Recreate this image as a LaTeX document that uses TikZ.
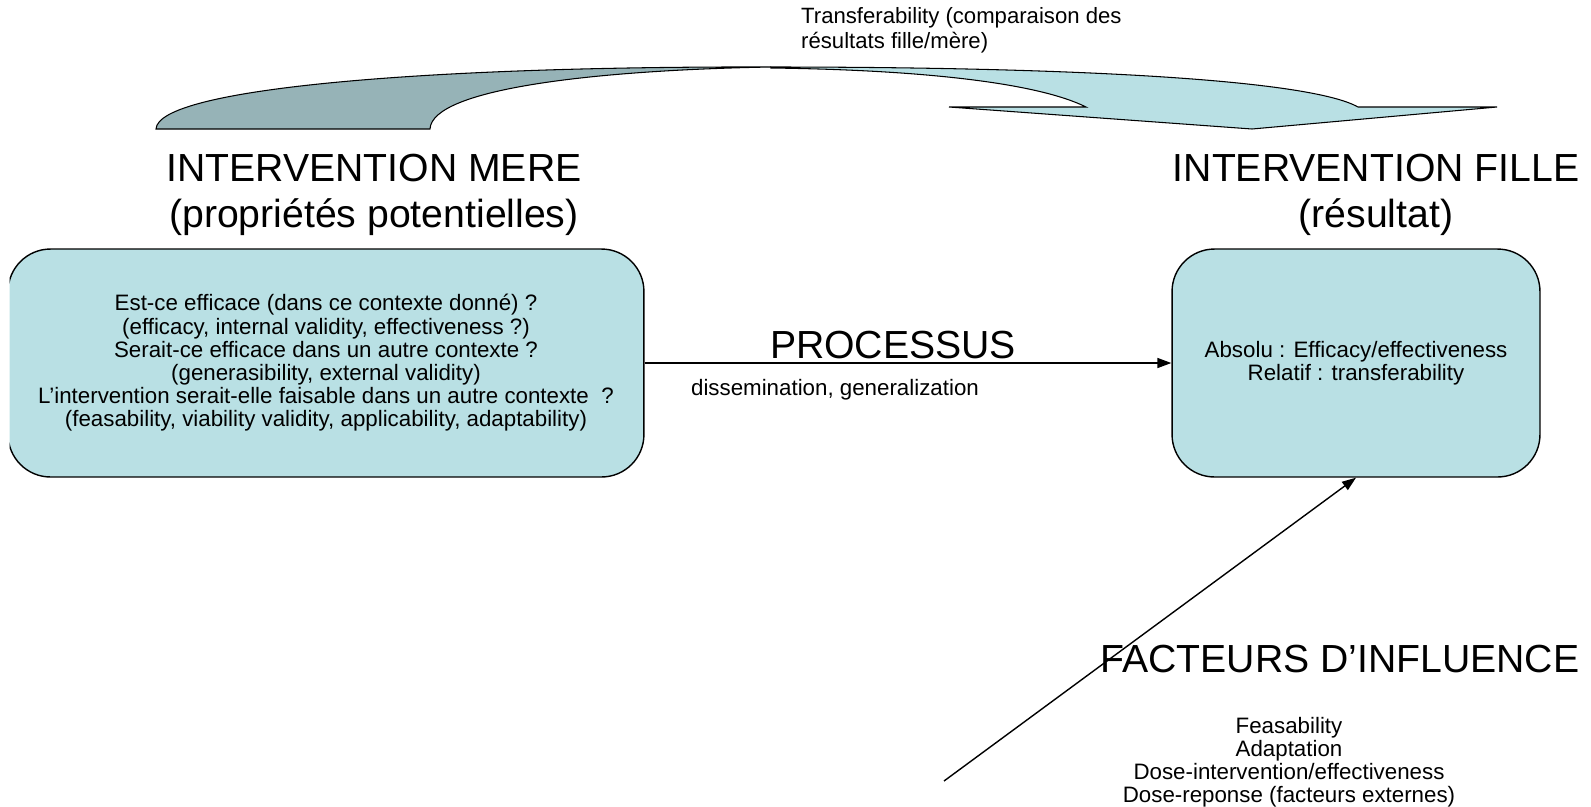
\documentclass[tikz,border=0pt]{standalone}
\usepackage{fontspec}
\setmainfont{Liberation Sans}
\usepackage{tikz}
\usetikzlibrary{arrows.meta,positioning}
\definecolor{boxcyan}{RGB}{185,224,228}
\definecolor{ribbondark}{RGB}{150,179,183}
\definecolor{ribbonlight}{RGB}{185,224,228}

\begin{document}
\begin{tikzpicture}[x=0.02cm, y=-0.02cm,
    interv/.style={
      rectangle, rounded corners=0.85cm, draw=black, line width=0.8pt, fill=boxcyan,
      minimum width=12.72cm, minimum height=4.56cm,
      align=center, font=\fontsize{12.7}{13.2}\selectfont
    },
    title/.style={font=\fontsize{22.3}{26}\selectfont, align=center},
    small/.style={font=\fontsize{12.7}{13.2}\selectfont, align=center},
    ribbon/.style={draw=black, line width=0.6pt},
    flow/.style={-{Triangle[length=0.28cm, width=0.2cm]}, line width=0.8pt, draw=black}
  ]
    \useasboundingbox (0,0) rectangle (1591,806);
    \clip (9.5,0) rectangle (1591,806);
    % ruban courbe
    \filldraw[ribbon, fill=ribbondark] (156,129) .. controls (158,88) and (430,66) .. (771,67)
      .. controls (600,70) and (432,88) .. (430,129) -- cycle;
    \filldraw[ribbon, fill=ribbonlight] (771,67) .. controls (1080,67) and (1310,80) .. (1358,107)
      -- (1497,107) -- (1252,129) -- (949,107) -- (1086,107)
      .. controls (1040,84) and (930,70) .. (771,68) -- cycle;
    \node[small, align=left, anchor=west, font=\fontsize{12.6}{14}\selectfont] (transf) at (795,30)
      {Transferability (comparaison des\\résultats fille/mère)};

    \node[title] (mereT) at (374,195) {INTERVENTION MERE\\(propriétés potentielles)};
    \node[title] (filleT) at (1376,195) {INTERVENTION FILLE\\(résultat)};

    \node[interv] (mere) at (326,363) {Est-ce efficace (dans ce contexte donné) ?\\
      (efficacy, internal validity, effectiveness ?)\\
      Serait-ce efficace dans un autre contexte ?\\
      (generasibility, external validity)\\
      L’intervention serait-elle faisable dans un autre contexte~~?\\
      (feasability, viability validity, applicability, adaptability)};
    \node[interv, minimum width=7.36cm] (fille) at (1356,363)
      {Absolu : Efficacy/effectiveness\\Relatif : transferability};

    \draw[flow] (mere.east) -- (fille.west);
    \node[title] (proc) at (893,345) {PROCESSUS};
    \node[small] (diss) at (835,390) {dissemination, generalization};

    \node[title] (fact) at (1340,659) {FACTEURS D’INFLUENCE};
    \node[small] (facteurs) at (1289,762) {Feasability\\Adaptation\\
      Dose-intervention/effectiveness\\Dose-reponse (facteurs externes)};
    \coordinate (src) at (944,781);
    \draw[flow] (src) -- (fille.south);
  \end{tikzpicture}
\end{document}
